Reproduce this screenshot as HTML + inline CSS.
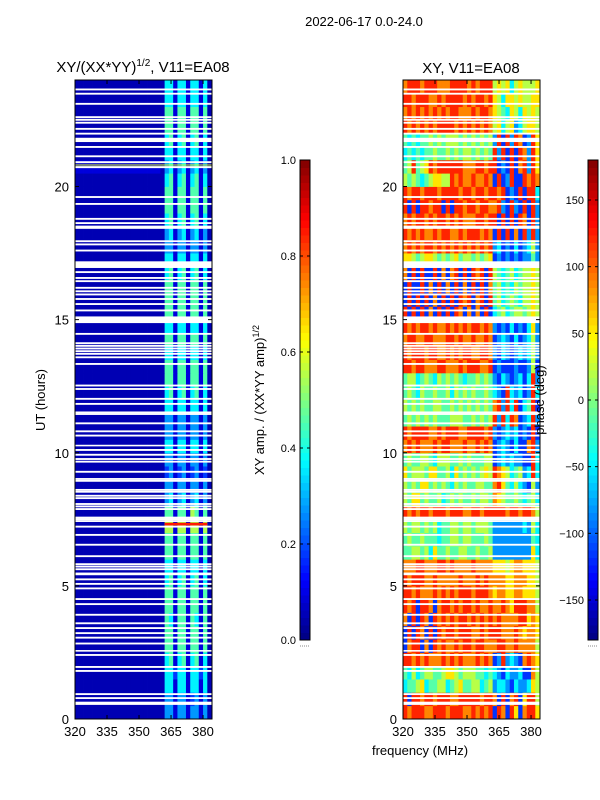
<!DOCTYPE html>
<html><head><meta charset="utf-8"><style>
body{margin:0;background:#fff;}
svg{display:block;font-family:"Liberation Sans",sans-serif;}
</style></head><body>
<svg id="fig" width="600" height="800" viewBox="0 0 600 800" xmlns="http://www.w3.org/2000/svg">
<text x="364" y="26" font-size="13" text-anchor="middle">2022-06-17 0.0-24.0</text>
<text x="143" y="72" font-size="15" text-anchor="middle">XY/(XX*YY)<tspan font-size="10" dy="-6">1/2</tspan><tspan dy="6">, V11=EA08</tspan></text>
<text x="471" y="73" font-size="15" text-anchor="middle">XY, V11=EA08</text>
<text x="45" y="400" font-size="13" text-anchor="middle" transform="rotate(-90 45 400)">UT (hours)</text>
<text x="420" y="755" font-size="13" text-anchor="middle">frequency (MHz)</text>
<text x="264" y="400" font-size="13" text-anchor="middle" transform="rotate(-90 264 400)">XY amp. / (XX*YY amp)<tspan font-size="9" dy="-5">1/2</tspan></text>
<g id="left"></g>
<g id="right"></g>
<g id="cb"></g>
<text x="544" y="400" font-size="13" text-anchor="middle" transform="rotate(-90 544 400)">phase (deg)</text>
</svg>
<script>
const freqMin = 320, freqMax = 384.2, tMin = 0, tMax = 24;
const xTicks = [320, 335, 350, 365, 380];
const yTicks = [0, 5, 10, 15, 20];
const ampTicks = [0.0, 0.2, 0.4, 0.6, 0.8, 1.0];
const phaseTicks = [-150, -100, -50, 0, 50, 100, 150];
const Z = "000000000000000000000";
const ampHigh = ["33133133130","33133123130","44144144140","44244144240","45145145140","55155155150","55155155150","54155154150","55155155150","55155155150","45145145140","44144144140","55155155150","55155155150","66166166160","55155165150","34134134130","33133133130","23123123120","33133133130","44144144140","33133133130","33133133130","44144144140","45145145140","55155155150","55155155150","44144144140","55155155150","44144144140","55155155150","55155155150","55155155150","45145145140","44144144140","33133133130","34134134130","45145145140","55155155150","55155155150","45145145140","34134134130","44144144140","45145145140","55155155150","55155155150","44144144140","44144144140"];
const ampLow = [Z,Z,Z,Z,Z,Z,Z,Z,Z,Z,Z,Z,Z,Z,Z,Z,Z,Z,Z,Z,Z,Z,Z,Z,Z,Z,Z,Z,Z,Z,Z,Z,Z,Z,Z,Z,Z,Z,Z,Z,Z,"111111111111111111110",Z,Z,Z,Z,Z,Z];
const phaseLow = ["878887788878887787878","818878878887788888788","344563445534564455345","435345544566545554434","887878777878787778787","178817187877878878877","181871818788788877878","718187187878788787878","878188717887878878778","887877787878788878887","878887787777787778787","777887778878777787777","445545364454455445445","454454443445545544454","545545453445545545554","878788788878887788788","546645445345454454554","545466454543545445544","645554664453645454565","454455435554454544455","787877787887778778787","878888778788877888878","454545454445554454545","545454455445454545454","454354454453545454454","455345435454543445454","887887778877787888778","878887887787878877887","788778877788787787787","878788787787878788787","818181718181871717181","181818171818187817818","181181718171817181817","718181181717818187818","665456654545645545456","787878878787878787878","878787787887787888787","787887878878787778878","818188788181887887887","878878887888878878878","545434566558787787787","458456878888887778878","343434454454545545454","434344545455545454545","878787878888787878787","787878787878877787887","887888778788887878878","788878887778888787888"];
const phaseHigh = ["18718617886","71817816885","23321322365","32132231175","12823217876","78877877775","88777876776","78777788676","77876888775","67766776665","77766777665","66656776665","22222222263","22222222243","22222223253","88878878875","76544543453","78643532152","87653452383","12323221183","12321311782","21232312181","82838712382","78283813481","32183231283","21321231382","12111211251","21321232352","12321312352","21213121362","34534554565","45345435565","45343545565","54345345565","12121212242","23121312352","18181718282","81818187182","78218218182","87812181883","18128118787","81218178286","82818187286","28182871286","56356235665","65436536565","65366565566","56563565556"];
const gapStart = [23.68,23.52,23.14,22.64,22.54,22.43,22.2,22.02,21.67,21.52,21.17,20.95,20.76,19.64,19.38,18.82,18.66,18.41,17.98,17.86,17.63,16.94,16.82,16.6,16.48,16.23,16.1,15.98,15.81,15.62,15.38,14.87,14.5,14.15,14.05,13.95,13.85,13.75,13.62,13.37,12.56,12.43,12.06,11.87,11.55,11.49,11.14,10.84,10.68,10.24,10.14,9.96,9.8,9.7,9.32,9.05,8.98,8.64,8.57,8.42,8.33,8.11,8.02,7.92,7.6,7.53,7.4,7.26,6.95,6.58,6.15,5.85,5.76,5.66,5.4,5.28,5.11,4.94,4.54,4.35,3.95,3.63,3.45,3.26,3.09,2.87,2.53,2.44,1.99,1.84,0.97,0.82,0.53];
const gapEnd   = [23.61,23.45,23.07,22.57,22.47,22.36,22.13,21.95,21.83,21.45,21.1,20.88,20.69,19.57,19.31,18.75,18.59,18.53,17.91,17.79,17.56,17.19,16.75,16.53,16.41,16.16,16.03,15.91,15.74,15.55,15.31,15.12,14.43,14.08,13.98,13.88,13.78,13.68,13.55,13.3,12.49,12.36,11.99,11.8,11.48,11.42,11.07,10.77,10.61,10.3,10.07,9.89,9.73,9.63,9.25,8.98,8.91,8.57,8.5,8.35,8.26,8.04,7.95,7.85,7.53,7.46,7.46,7.19,6.88,6.51,6.08,5.78,5.69,5.59,5.5,5.21,5.04,4.87,4.47,4.28,3.88,3.56,3.38,3.19,3.02,2.8,2.59,2.37,1.92,1.77,0.9,0.75,0.65];
const hotTimes = [7.32, 20.8];
const hotValues = [0.85, 0.6];

const NS = "http://www.w3.org/2000/svg";
function jet(v){v=Math.max(0,Math.min(1,v));
 const r=Math.max(0,Math.min(1,Math.min(4*v-1.5,-4*v+4.5)));
 const g=Math.max(0,Math.min(1,Math.min(4*v-0.5,-4*v+3.5)));
 const b=Math.max(0,Math.min(1,Math.min(4*v+0.5,-4*v+2.5)));
 return `rgb(${Math.round(r*255)},${Math.round(g*255)},${Math.round(b*255)})`;}
function mk(parent,tag,attrs){const e=document.createElementNS(NS,tag);for(const k in attrs)e.setAttribute(k,attrs[k]);parent.appendChild(e);return e;}
const Y0=719, Y1=80;
const yS = t => Y0 - (t - tMin) / (tMax - tMin) * (Y0 - Y1);
function panel(g, x0, x1, low, high, valFn, name){
 const xS = f => x0 + (f - freqMin) / (freqMax - freqMin) * (x1 - x0);
 const nCols = 32, bw = 2;
 for(let i=0;i<low.length;i++){
  const row = low[i] + high[i];
  const t0=i*0.5, t1=t0+0.5;
  for(let j=0;j<nCols && j<row.length;j++){
   const f0=freqMin+j*bw, f1=Math.min(freqMax,f0+bw);
   const r=mk(g,'rect',{x:xS(f0),y:yS(t1),width:xS(f1)-xS(f0)+0.4,height:yS(t0)-yS(t1)+0.4,fill:jet(valFn(+row[j]))});
   
   
  }
 }
 if(name==='amp'){
  for(let k=0;k<hotTimes.length;k++){
   const r=mk(g,'rect',{x:xS(k===0?362:320),y:yS(hotTimes[k]+0.05),width:xS(k===0?382:384)-xS(k===0?362:320),height:yS(hotTimes[k]-0.05)-yS(hotTimes[k]+0.05),fill:jet(hotValues[k]),opacity:k===0?1:0.5});
   
   
  }
 }
 for(let k=0;k<gapStart.length;k++){
  const a=Math.max(gapStart[k],gapEnd[k]), b=Math.min(gapStart[k],gapEnd[k]);
  const r=mk(g,'rect',{x:x0,y:yS(a),width:x1-x0,height:Math.max(1.6,yS(b)-yS(a)),fill:'#fff'});
  
  
 }
 const fr=mk(g,'rect',{x:x0,y:Y1,width:x1-x0,height:Y0-Y1,fill:'none',stroke:'#000','stroke-width':1});
 
 
 for(const f of xTicks){
  const x=xS(f);
  mk(g,'line',{x1:x,x2:x,y1:Y0,y2:Y0-4,stroke:'#000'});
  mk(g,'line',{x1:x,x2:x,y1:Y1,y2:Y1+4,stroke:'#000'});
  const tx=mk(g,'text',{x:x,y:Y0+17,'font-size':13,'text-anchor':'middle'});tx.textContent=f;
  
  
 }
 for(const t of yTicks){
  const y=yS(t);
  mk(g,'line',{x1:x0,x2:x0+4,y1:y,y2:y,stroke:'#000'});
  mk(g,'line',{x1:x1,x2:x1-4,y1:y,y2:y,stroke:'#000'});
  const tx=mk(g,'text',{x:x0-6,y:y+5,'font-size':13,'text-anchor':'end'});tx.textContent=t;
  
  
 }
}
panel(document.getElementById('left'),75,212,ampLow,ampHigh,d=>d===0?0.05:d/11,'amp');
panel(document.getElementById('right'),403,540,phaseLow,phaseHigh,d=>0.08+d*0.095,'phase');

function colorbar(g,x,lo,hi,ticks,name){
 const yT=160,yB=640,w=10,n=64;
 for(let i=0;i<n;i++){
  const r=mk(g,'rect',{x:x,y:yB-(i+1)*(yB-yT)/n,width:w,height:(yB-yT)/n+0.5,fill:jet((i+0.5)/n)});
  
  
 }
 const fr=mk(g,'rect',{x:x,y:yT,width:w,height:yB-yT,fill:'none',stroke:'#000'});
 
 
 for(const v of ticks){
  const y=yB-(v-lo)/(hi-lo)*(yB-yT);
  mk(g,'line',{x1:x,x2:x+3,y1:y,y2:y,stroke:'#000'});
  mk(g,'line',{x1:x+w,x2:x+w-3,y1:y,y2:y,stroke:'#000'});
  const tx=mk(g,'text',{x:x-4,y:y+4,'font-size':11,'text-anchor':'end'});
  tx.textContent = (name==='amp-colorbar') ? v.toFixed(1) : (v<0?'\u2212'+(-v):v);
  
  
 }
 const d=mk(g,'line',{x1:x,x2:x+w,y1:646,y2:646,stroke:'#888','stroke-dasharray':'1,1'});
 
 
}
colorbar(document.getElementById('cb'),300,0,1,ampTicks,'amp-colorbar');
colorbar(document.getElementById('cb'),588,-180,180,phaseTicks,'phase-colorbar');
</script>
</body></html>
